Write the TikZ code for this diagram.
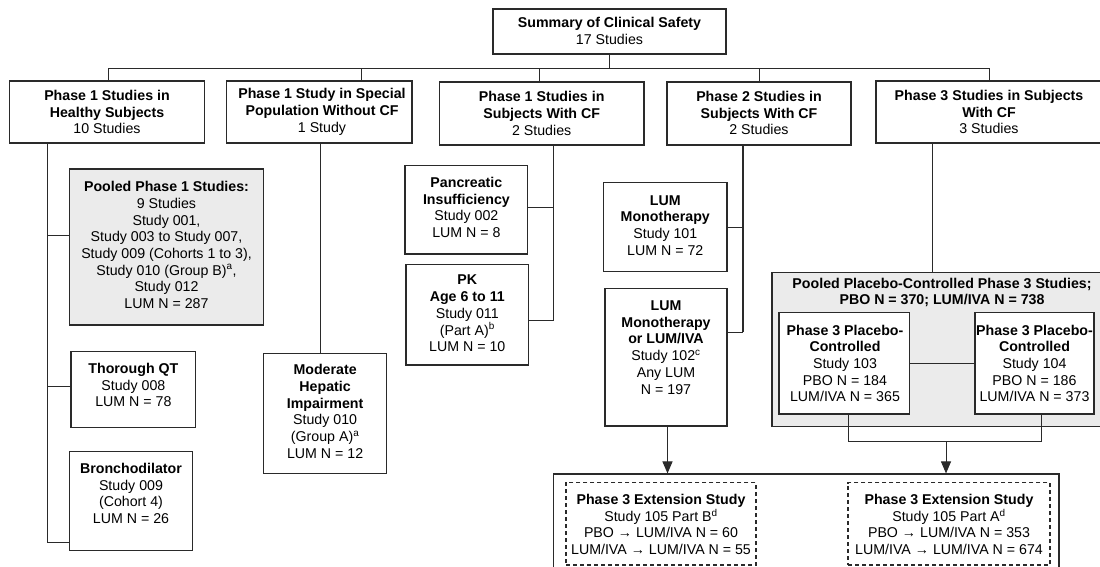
\documentclass[tikz,border=0pt]{standalone}
\usepackage{fontspec}
\setmainfont{Liberation Sans}
\usetikzlibrary{arrows.meta,fit}
\newcommand\myfs{\fontsize{14.2}{16.7}\selectfont}
\definecolor{poolgray}{HTML}{EBEBEB}
\definecolor{linecol}{HTML}{2A2A2A}
\begin{document}
\begin{tikzpicture}[x=1pt,y=-1pt,
  box/.style={draw=linecol, line width=1.1pt, fill=white, inner sep=0pt},
  graybox/.style={box, fill=poolgray},
  dashbox/.style={box, dashed, dash pattern=on 4pt off 3pt},
  txt/.style={align=center, font=\myfs, inner sep=0pt, text=black},
  conn/.style={draw=linecol, line width=1pt},
  arr/.style={conn, -{Triangle[length=12pt,width=10pt]}}
]
\useasboundingbox (0,0) rectangle (1100,566);

% top
\node[box, fit={(493,9)(726,54)}] (top) {};
\node[txt] (top-t) at (609.5,31) {\textbf{Summary of Clinical Safety}\\17 Studies};

% level 1
\node[box, fit={(9.5,81)(204.5,143)}] (b1) {};
\node[txt] (b1-t) at (107,112) {\textbf{Phase 1 Studies in}\\\textbf{Healthy Subjects}\\10 Studies};
\node[box, fit={(226.5,81)(412,143)}] (b2) {};
\node[txt] (b2-t) at (322,112) {\textbf{Phase 1 Study in Special}\\\textbf{Population Without CF}\\1 Study};
\node[box, fit={(439.4,82)(644,145)}] (b3) {};
\node[txt] (b3-t) at (541.7,113.5) {\textbf{Phase 1 Studies in}\\\textbf{Subjects With CF}\\2 Studies};
\node[box, fit={(667,82)(851,145)}] (b4) {};
\node[txt] (b4-t) at (759,113) {\textbf{Phase 2 Studies in}\\\textbf{Subjects With CF}\\2 Studies};
\node[box, fit={(876,81)(1102,143)}] (b5) {};
\node[txt] (b5-t) at (989,112) {\textbf{Phase 3 Studies in Subjects}\\\textbf{With CF}\\3 Studies};

% bus
\coordinate (busL) at (108,68);
\coordinate (busR) at (989,68);
\coordinate (d2) at (361,68);
\coordinate (d3) at (539,68);
\coordinate (d4) at (759,68);
\draw[conn] (top.south) -- (top.south |- busL);
\draw[conn] (busL -| b1.north) ++(0,0);
\draw[conn] (busL) -- (busR);
\draw[conn] (busL) -- (busL |- b1.north);
\draw[conn] (d2) -- (d2 |- b2.north);
\draw[conn] (d3) -- (d3 |- b3.north);
\draw[conn] (d4) -- (d4 |- b4.north);
\draw[conn] (busR) -- (busR |- b5.north);

% healthy column
\node[graybox, fit={(69.4,169)(263.7,325)}] (pool1) {};
\node[txt] (pool1-t) at (166.5,245) {\textbf{Pooled Phase 1 Studies:}\\9 Studies\\Study 001,\\Study 003 to Study 007,\\Study 009 (Cohorts 1 to 3),\\Study 010 (Group B)\textsuperscript{a},\\Study 012\\LUM N = 287};
\node[box, fit={(71,351.7)(195.7,427.3)}] (tqt) {};
\node[txt] (tqt-t) at (133.4,385) {\textbf{Thorough QT}\\Study 008\\LUM N = 78};
\node[box, fit={(69.4,451.7)(192.5,550.7)}] (bron) {};
\node[txt] (bron-t) at (131,493.5) {\textbf{Bronchodilator}\\Study 009\\(Cohort 4)\\LUM N = 26};
\coordinate (hx) at (47.3,0);
\coordinate (hP) at (47.3,235);
\coordinate (hT) at (47.3,386.7);
\coordinate (hB) at (47.3,542);
\draw[conn] (b1.south -| hx) -- (hB) -- (hB -| bron.west);
\draw[conn] (hP) -- (hP -| pool1.west);
\draw[conn] (hT) -- (hT -| tqt.west);

% special population
\node[box, fit={(263.4,353.3)(386.8,473.7)}] (hep) {};
\node[txt] (hep-t) at (325.1,411.5) {\textbf{Moderate}\\\textbf{Hepatic}\\\textbf{Impairment}\\Study 010\\(Group A)\textsuperscript{a}\\LUM N = 12};
\coordinate (sx) at (320,0);
\draw[conn] (b2.south -| sx) -- (hep.north -| sx);

% phase 1 CF
\node[box, fit={(405,165.7)(527.8,254)}] (panc) {};
\node[txt] (panc-t) at (466.4,207.5) {\textbf{Pancreatic}\\\textbf{Insufficiency}\\Study 002\\LUM N = 8};
\node[box, fit={(406,264.3)(528.5,365)}] (pk) {};
\node[txt] (pk-t) at (467.3,313.5) {\textbf{PK}\\\textbf{Age 6 to 11}\\Study 011\\(Part A)\textsuperscript{b}\\LUM N = 10};
\coordinate (cx) at (553.5,0);
\coordinate (c1) at (553.5,207.3);
\coordinate (c2) at (553.5,320.7);
\draw[conn] (b3.south -| cx) -- (c2) -- (c2 -| pk.east);
\draw[conn] (c1) -- (c1 -| panc.east);

% phase 2
\node[box, fit={(603.7,182.7)(727,271.7)}] (lm) {};
\node[txt] (lm-t) at (665.3,225.5) {\textbf{LUM}\\\textbf{Monotherapy}\\Study 101\\LUM N = 72};
\node[box, fit={(605,288.7)(727,426)}] (li) {};
\node[txt] (li-t) at (666,347.5) {\textbf{LUM}\\\textbf{Monotherapy}\\\textbf{or LUM/IVA}\\Study 102\textsuperscript{c}\\Any LUM\\N = 197};
\coordinate (px) at (743,0);
\coordinate (p1) at (743,227.7);
\coordinate (p2) at (743,332.3);
\draw[conn, line width=1.6pt] (b4.south -| px) -- (p2);
\draw[conn] (p2) -- (p2 -| li.east);
\draw[conn] (p1) -- (p1 -| lm.east);

% phase 3
\node[graybox, fit={(772,272.3)(1112,426.7)}] (pool3) {};
\node[txt] (pool3-t) at (942,292.5) {\textbf{Pooled Placebo-Controlled Phase 3 Studies;}\\\textbf{PBO N = 370; LUM/IVA N = 738}};
\node[box, fit={(779,312.7)(909.5,414)}] (s103) {};
\node[txt] (s103-t) at (845,363.5) {\textbf{Phase 3 Placebo-}\\\textbf{Controlled}\\Study 103\\PBO N = 184\\LUM/IVA N = 365};
\node[box, fit={(975,312.7)(1094,414)}] (s104) {};
\node[txt] (s104-t) at (1034.5,363.5) {\textbf{Phase 3 Placebo-}\\\textbf{Controlled}\\Study 104\\PBO N = 186\\LUM/IVA N = 373};
\coordinate (qx) at (932,0);
\draw[conn] (b5.south -| qx) -- (pool3.north -| qx);
\draw[conn] (s103.east) -- (s104.east -| s104.west);

% extension
\node[box, fit={(553.5,474)(1059,610)}] (ext) {};
\node[dashbox, fit={(566,482.7)(756,565)}] (e1) {};
\node[txt] (e1-t) at (661,524.5) {\textbf{Phase 3 Extension Study}\\Study 105 Part B\textsuperscript{d}\\PBO → LUM/IVA N = 60\\LUM/IVA → LUM/IVA N = 55};
\node[dashbox, fit={(848,482.7)(1050,565)}] (e2) {};
\node[txt] (e2-t) at (949,524.5) {\textbf{Phase 3 Extension Study}\\Study 105 Part A\textsuperscript{d}\\PBO → LUM/IVA N = 353\\LUM/IVA → LUM/IVA N = 674};

\coordinate (k1) at (848,441.7);
\coordinate (k2) at (1041.7,441.7);
\coordinate (ka) at (946,441.7);
\draw[conn] (s103.south -| k1) -- (k1) -- (k2) -- (s104.south -| k2);
\draw[arr] (ka) -- (ext.north -| ka);
\coordinate (la) at (667.5,0);
\draw[arr] (li.south -| la) -- (ext.north -| la);
\end{tikzpicture}
\end{document}
